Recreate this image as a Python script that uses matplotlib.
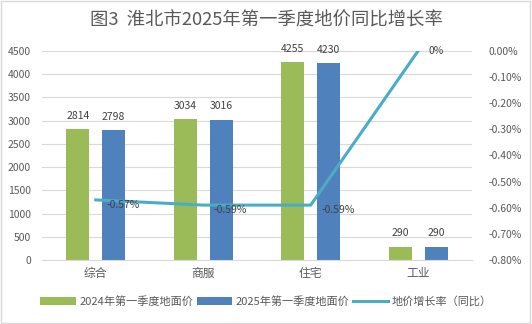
import numpy as np
import matplotlib
matplotlib.use("Agg")
import matplotlib.pyplot as plt

plt.rcParams['font.family'] = ['Noto Sans CJK SC', 'DejaVu Sans']

categories = ['综合', '商服', '住宅', '工业']
price_2024 = [2814, 3034, 4255, 290]
price_2025 = [2798, 3016, 4230, 290]
growth = [-0.57, -0.59, -0.59, 0.0]
growth_labels = ['-0.57%', '-0.59%', '-0.59%', '0%']
right_ticks = [-0.8, -0.7, -0.6, -0.5, -0.4, -0.3, -0.2, -0.1, 0.0]
right_labels = ['-0.80%', '-0.70%', '-0.60%', '-0.50%', '-0.40%', '-0.30%', '-0.20%', '-0.10%', '0.00%']

green = '#9BBB59'
blue = '#4F81BD'
teal = '#4BACC6'
text_c = '#595959'
grid_c = '#D9D9D9'

fig = plt.figure(figsize=(5.32, 3.24), dpi=100)
ax = fig.add_axes([0.079, 0.1975, 0.808, 0.6455])
ax2 = ax.twinx()

x = np.arange(len(categories))
w = 0.215
off = 0.167
b1 = ax.bar(x - off, price_2024, w, color=green, label='2024年第一季度地面价', zorder=2)
b2 = ax.bar(x + off, price_2025, w, color=blue, label='2025年第一季度地面价', zorder=2)
for bars in (b1, b2):
    for r in bars:
        ax.text(r.get_x() + r.get_width() / 2, r.get_height() + 180, f'{int(r.get_height())}',
                ha='center', va='bottom', fontsize=7.5, color='#404040')

ax.set_xlim(-0.5, 3.5)
ax.set_ylim(0, 4500)
ax.set_yticks(np.arange(0, 4501, 500))
ax.yaxis.grid(True, color=grid_c, linewidth=0.8, zorder=0)
ax.set_axisbelow(True)
ax.set_xticks(x)
ax.set_xticklabels(categories, fontsize=8.5, color=text_c)
ax.tick_params(axis='y', labelsize=7.5, colors=text_c, length=0, pad=8)
ax.tick_params(axis='x', length=0, pad=5)
for s in ax.spines.values():
    s.set_visible(False)
ax.spines['bottom'].set_visible(True)
ax.spines['bottom'].set_color(grid_c)

ln, = ax2.plot(x, growth, color=teal, linewidth=2.2, label='地价增长率（同比）', zorder=3)
ax2.set_ylim(-0.8, 0.0)
ax2.set_yticks(right_ticks)
ax2.set_yticklabels(right_labels)
ax2.tick_params(axis='y', labelsize=7.5, colors=text_c, length=0, pad=12)
for s in ax2.spines.values():
    s.set_visible(False)
for xi, yi, lab in zip(x, growth, growth_labels):
    dy = -0.02 if yi < 0 else 0.0
    ax2.text(xi + 0.1, yi + dy, lab, ha='left', va='center', fontsize=7.5, color='#404040')

fig.text(0.5, 0.935, '图3  淮北市2025年第一季度地价同比增长率', ha='center', va='center',
         fontsize=13.2, color=text_c)

handles = [b1, b2, ln]
fig.legend(handles, [h.get_label() for h in handles], loc='center', bbox_to_anchor=(0.5, 0.07),
           ncol=3, frameon=False, fontsize=8, labelcolor=text_c, handlelength=3.2,
           handletextpad=0.3, columnspacing=0.3)

fig.patches.append(plt.Rectangle((0.002, 0.003), 0.995, 0.993, transform=fig.transFigure,
                                 fill=False, edgecolor='#D9D9D9', linewidth=1))
fig.savefig('out.png', dpi=100)
